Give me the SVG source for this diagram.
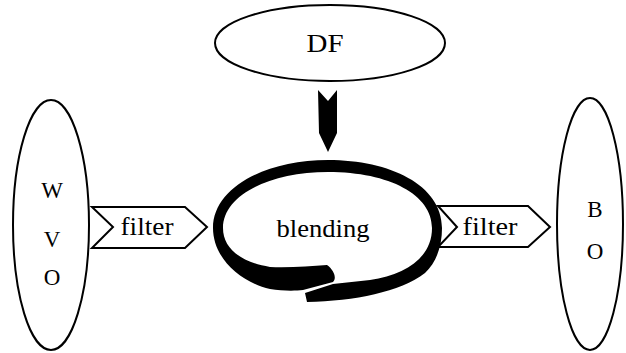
<svg xmlns="http://www.w3.org/2000/svg" width="626" height="353" viewBox="0 0 626 353">
<style>
.node{fill:#fff;stroke:#000;stroke-width:2}
.t{font-family:"Liberation Serif","Times New Roman",serif;fill:#000;text-anchor:middle}
.cap{font-size:23px}
.low{font-size:25px}
.solid{fill:#000;stroke:none}
</style>
<rect width="626" height="353" fill="#fff"/>
<g id="DF">
<ellipse class="node" cx="330" cy="43" rx="115" ry="38"/>
<text class="t" x="325" y="52" font-size="26" textLength="37" lengthAdjust="spacingAndGlyphs">DF</text>
</g>
<g id="WVO">
<ellipse class="node" cx="51" cy="225" rx="38" ry="125"/>
<text class="t cap" x="52" y="198">W</text>
<text class="t cap" x="52" y="247">V</text>
<text class="t cap" x="52" y="285">O</text>
</g>
<g id="BO">
<ellipse class="node" cx="590" cy="224" rx="33" ry="126"/>
<text class="t cap" x="595" y="217">B</text>
<text class="t cap" x="595" y="259">O</text>
</g>
<g id="blending">
<path class="solid" d="M 305 293 L 307 302 C 355 301 400 292 425 273 C 437 262 442 245 442 228 C 442 185 390 160 328 160 C 265 160 213 188 213 228 C 213 258 240 282 270 289 C 282 291 295 291 303 290 L 333 282 C 337 278 334 270 327 265 C 310 266 290 268 270 267 C 240 262 223 248 223 228 C 223 195 270 172 328 172 C 390 172 432 195 432 228 C 432 258 405 275 370 280 L 333 284 Z"/>
<text class="t low" x="323" y="237" textLength="93" lengthAdjust="spacingAndGlyphs">blending</text>
</g>
<g id="connectors">
<polygon class="solid" points="318,90 328,101 337,90 337,133 328,152 319,133"/>
<g id="filter1">
<polygon class="node" points="92,207 185,207 207,227 185,248 92,248 113,227"/>
<text class="t low" x="147" y="235" textLength="53" lengthAdjust="spacingAndGlyphs">filter</text>
</g>
<g id="filter2">
<polygon class="node" points="438,206 528,206 550,227 528,247 438,247 457,227"/>
<text class="t low" x="490" y="235" textLength="55" lengthAdjust="spacingAndGlyphs">filter</text>
</g>
</g>
</svg>
